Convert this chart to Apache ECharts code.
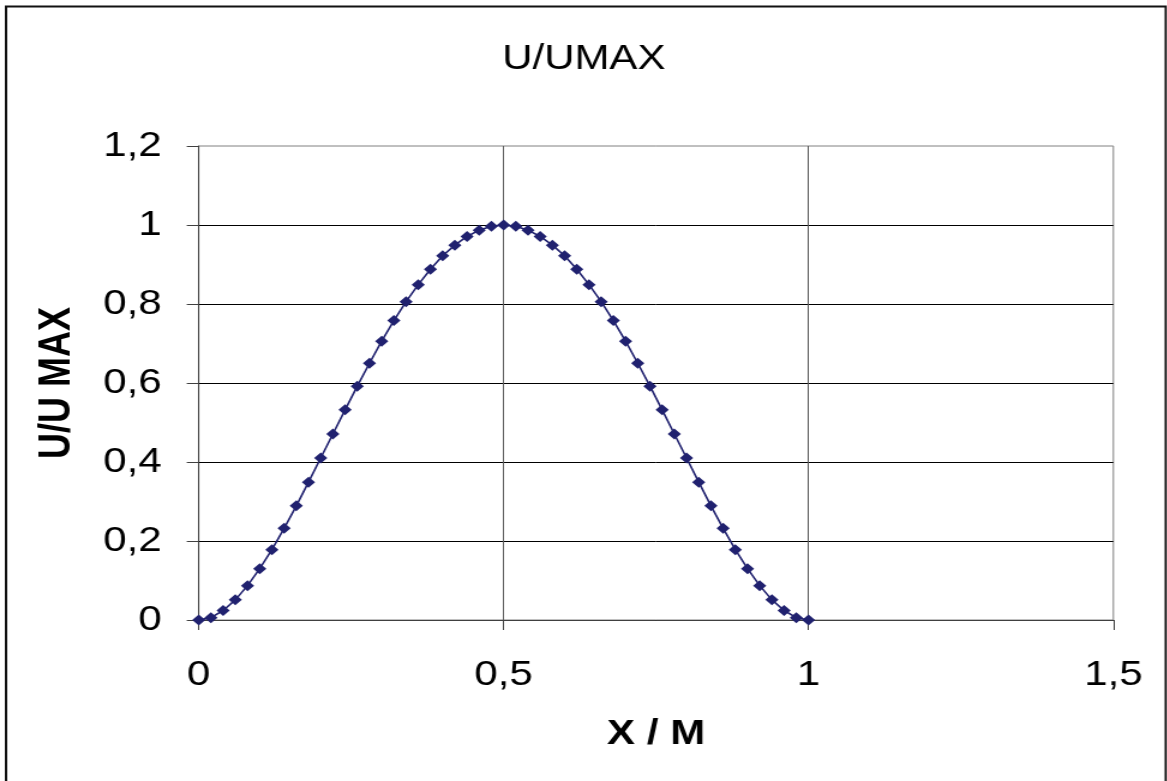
<!DOCTYPE html>
<html>
<head>
<meta charset="utf-8">
<script src="https://cdn.jsdelivr.net/npm/echarts@6/dist/echarts.min.js"></script>
<style>
  html, body { margin: 0; padding: 0; background: #fff; overflow: hidden; }
  /* the chart is laid out narrower and widened to the window width */
  #chart { width: 972.5px; height: 781px; transform: scaleX(1.2); transform-origin: 0 0; }
</style>
</head>
<body>
<div id="chart"></div>
<script>
// positions along the beam, X / M
const xValues = [
  0, 0.02, 0.04, 0.06, 0.08, 0.10, 0.12, 0.14, 0.16, 0.18,
  0.20, 0.22, 0.24, 0.26, 0.28, 0.30, 0.32, 0.34, 0.36, 0.38,
  0.40, 0.42, 0.44, 0.46, 0.48, 0.50, 0.52, 0.54, 0.56, 0.58,
  0.60, 0.62, 0.64, 0.66, 0.68, 0.70, 0.72, 0.74, 0.76, 0.78,
  0.80, 0.82, 0.84, 0.86, 0.88, 0.90, 0.92, 0.94, 0.96, 0.98, 1.00
];
// normalised displacement U/UMAX at each position
const uValues = [
  0, 0.006, 0.024, 0.051, 0.087, 0.130, 0.178, 0.232, 0.289, 0.349,
  0.410, 0.471, 0.532, 0.592, 0.650, 0.706, 0.758, 0.806, 0.849, 0.888,
  0.922, 0.949, 0.971, 0.987, 0.997, 1.000, 0.997, 0.987, 0.971, 0.949,
  0.922, 0.888, 0.849, 0.806, 0.758, 0.706, 0.650, 0.592, 0.532, 0.471,
  0.410, 0.349, 0.289, 0.232, 0.178, 0.130, 0.087, 0.051, 0.024, 0.006, 0
];
const titleText = 'U/UMAX';
const xAxisTitle = 'X / M';
const yAxisTitle = 'U/U MAX';

const FONT = "'Liberation Sans', Arial, sans-serif";
const NAVY = '#20216f';
const comma = v => String(+v.toFixed(2)).replace('.', ',');

const chart = echarts.init(document.getElementById('chart'), null, { renderer: 'canvas' });
chart.setOption({
  animation: false,
  backgroundColor: '#fff',
  textStyle: { fontFamily: FONT },
  title: {
    text: titleText,
    left: 'center',
    top: 37,
    textStyle: { fontFamily: FONT, fontSize: 35, fontWeight: 'normal', color: '#000' }
  },
  graphic: [{
    type: 'rect',
    shape: { x: 5, y: 6.5, width: 966.5, height: 800 },
    style: { fill: 'none', stroke: '#111', lineWidth: 2 },
    silent: true
  }],
  grid: {
    left: 165.6, top: 146, right: 45.2, bottom: 161,
    show: true, borderColor: '#808080', borderWidth: 1, backgroundColor: 'transparent'
  },
  xAxis: {
    type: 'value',
    min: 0, max: 1.5, interval: 0.5,
    name: xAxisTitle,
    nameLocation: 'middle',
    nameGap: 97,
    nameTextStyle: { fontFamily: FONT, fontSize: 35, fontWeight: 'bold', color: '#000' },
    axisLine: { show: true, onZero: false, lineStyle: { color: '#404040', width: 1 } },
    axisTick: { show: true, inside: false, length: 10, lineStyle: { color: '#404040' } },
    axisLabel: { margin: 38, fontFamily: FONT, fontSize: 35, color: '#000', formatter: comma },
    splitLine: { show: true, showMaxLine: false, lineStyle: { color: '#5a5a5a', width: 1 } }
  },
  yAxis: {
    type: 'value',
    min: 0, max: 1.2, interval: 0.2,
    name: yAxisTitle,
    nameLocation: 'middle',
    nameGap: 100,
    nameRotate: 90,
    nameTextStyle: { fontFamily: FONT, fontSize: 36, fontWeight: 'bold', color: '#000' },
    axisLine: { show: true, lineStyle: { color: '#404040', width: 1 } },
    axisTick: { show: true, inside: false, length: 10, lineStyle: { color: '#404040' } },
    axisLabel: { margin: 31, fontFamily: FONT, fontSize: 35, color: '#000', padding: [14, 0, 0, 0], formatter: comma },
    splitLine: { show: true, showMaxLine: false, lineStyle: { color: '#000', width: 1 } }
  },
  series: [{
    type: 'line',
    data: xValues.map((x, i) => [x, uValues[i]]),
    symbol: 'diamond',
    symbolSize: 11,
    showAllSymbol: true,
    lineStyle: { color: NAVY, width: 1.6 },
    itemStyle: { color: NAVY, borderWidth: 0 },
    emphasis: { disabled: true }
  }]
});
</script>
</body>
</html>
